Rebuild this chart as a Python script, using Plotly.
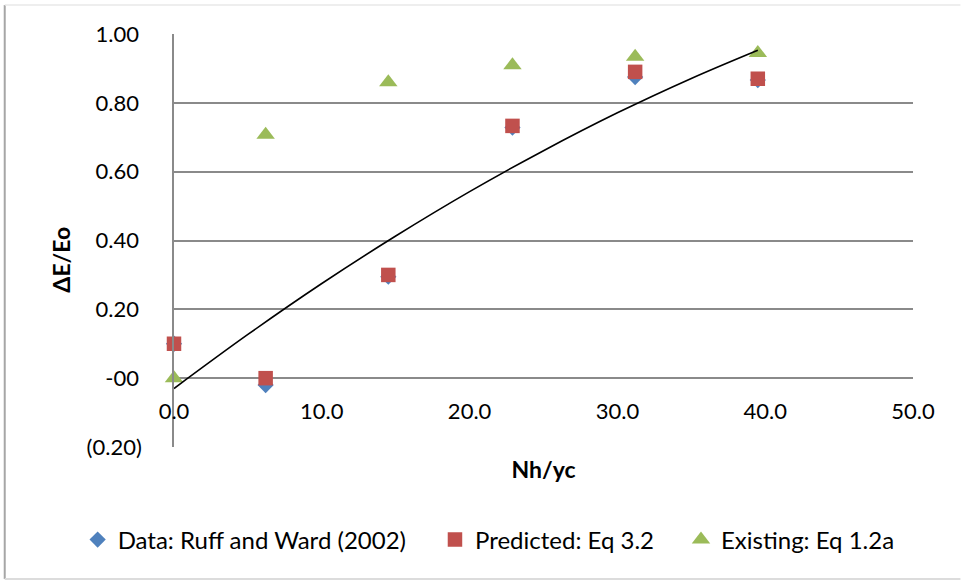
import plotly.graph_objects as go

# ---- data ----
nh_yc = [0.0, 6.2, 14.5, 22.9, 31.2, 39.5]
data_ruff_ward = [0.10, -0.02, 0.295, 0.728, 0.875, 0.866]
predicted_eq32 = [0.10, 0.00, 0.30, 0.733, 0.89, 0.87]
existing_eq12a = [0.00, 0.707, 0.86, 0.909, 0.934, 0.945]

# trendline (black curve) points
trend_x = [0.0, 5.0, 10.0, 15.0, 20.0, 25.0, 30.0, 35.0, 39.5]
trend_y = [-0.03, 0.127, 0.275, 0.413, 0.542, 0.661, 0.771, 0.871, 0.953]

y_tick_vals = [-0.2, 0.0, 0.2, 0.4, 0.6, 0.8, 1.0]
y_tick_text = ["(0.20)", "-00\u2009", "0.20\u2009", "0.40\u2009", "0.60\u2009", "0.80\u2009", "1.00\u2009"]
x_tick_vals = [0, 10, 20, 30, 40, 50]
x_tick_text = ["0.0", "10.0", "20.0", "30.0", "40.0", "50.0"]

FONT = "Lato"
GRID = "#8a8a8a"

fig = go.Figure()
fig.add_trace(go.Scatter(
    x=nh_yc, y=data_ruff_ward, mode="markers",
    name="Data: Ruff and Ward (2002)\u2003\u2005",
    cliponaxis=False,
    marker=dict(symbol="diamond", size=12.5, color="#4F81BD")))
fig.add_trace(go.Scatter(
    x=nh_yc, y=predicted_eq32, mode="markers",
    name="Predicted: Eq 3.2\u2003\u2006",
    cliponaxis=False,
    marker=dict(symbol="square", size=14.5, color="#C0504D")))
fig.add_trace(go.Scatter(
    x=nh_yc, y=existing_eq12a, mode="markers", name="Existing: Eq 1.2a",
    cliponaxis=False,
    marker=dict(symbol="triangle-up", size=16, color="#9BBB59")))
fig.add_trace(go.Scatter(
    x=trend_x, y=trend_y, mode="lines", showlegend=False,
    line=dict(color="black", width=1.6, shape="spline")))

fig.update_layout(
    width=961, height=581,
    margin=dict(l=173.5, r=47.5, t=34, b=134, autoexpand=False),
    paper_bgcolor="white", plot_bgcolor="white",
    font=dict(family=FONT, size=23, color="black"),
    legend=dict(orientation="h", xref="paper", yref="paper",
                x=(77 - 173.5) / 740, y=(447 - 540) / 413,
                xanchor="left", yanchor="middle",
                bgcolor="rgba(0,0,0,0)",
                font=dict(size=24), itemwidth=30, tracegroupgap=0),
    xaxis=dict(range=[0, 50], tickvals=x_tick_vals, ticktext=x_tick_text,
               showgrid=False, zeroline=False, showline=False,
               anchor="free", position=(0 - (-0.2)) / 1.2,
               ticks="", ticklabelstandoff=18,
               tickfont=dict(size=22),
               title=dict(text="<b>Nh/yc</b>", standoff=38, font=dict(size=23))),
    yaxis=dict(range=[-0.2, 1.0], tickvals=y_tick_vals, ticktext=y_tick_text,
               showgrid=True, gridcolor=GRID, gridwidth=1.6,
               zeroline=False, showline=True, linecolor=GRID, linewidth=1.6,
               ticks="", ticklabelstandoff=26,
               tickfont=dict(size=22)),
    annotations=[dict(text="<b>ΔE/Eo</b>", textangle=-90, showarrow=False,
                      xref="paper", yref="paper",
                      x=(60 - 173.5) / 740, y=(447 - 260) / 413,
                      xanchor="center", yanchor="middle",
                      font=dict(size=23))],
)

# outer frame of the chart area
fig.add_shape(type="line", xref="paper", yref="paper",
              x0=(4 - 173.5) / 740, x1=(4 - 173.5) / 740,
              y0=(447 - 5) / 413, y1=(447 - 579) / 413,
              line=dict(color="#a6a6a6", width=2))
fig.add_shape(type="line", xref="paper", yref="paper",
              x0=(4 - 173.5) / 740, x1=(961 - 173.5) / 740,
              y0=(447 - 5) / 413, y1=(447 - 5) / 413,
              line=dict(color="#e8e8e8", width=1.5))
fig.add_shape(type="line", xref="paper", yref="paper",
              x0=(4 - 173.5) / 740, x1=(961 - 173.5) / 740,
              y0=(447 - 579) / 413, y1=(447 - 579) / 413,
              line=dict(color="#dcdcdc", width=2))

fig.write_html("out.html", config={"displayModeBar": False},
               post_script="document.body.style.margin='0';document.body.style.overflow='hidden';")
